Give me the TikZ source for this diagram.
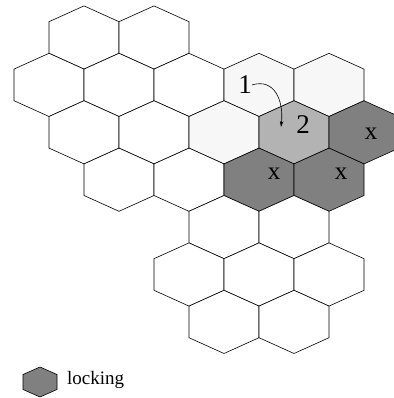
\documentclass[tikz,border=0pt]{standalone}
\usepackage{fontspec}
\setmainfont{Liberation Serif}
\usetikzlibrary{arrows.meta}
\begin{document}
\begin{tikzpicture}[x=1pt,y=-1pt]
\definecolor{cfree}{HTML}{FFFFFF}
\definecolor{cseen}{HTML}{F7F7F7}
\definecolor{cpick}{HTML}{B3B3B3}
\definecolor{clock}{HTML}{808080}
\tikzset{cell/.style={draw=black,line width=0.6pt,line join=miter},
 cross/.style={font=\fontsize{25}{27}\selectfont,inner sep=0pt},
 digit/.style={font=\fontsize{27}{29}\selectfont,inner sep=0pt}}
\useasboundingbox (0,0) rectangle (393,398);
% grid of cells
\foreach \cx/\cy/\col in {84/37.5/cfree,154/37.5/cfree,
 49/84.9/cfree,119/84.9/cfree,189/84.9/cfree,259/84.9/cseen,329/84.9/cseen,
 84/132.3/cfree,154/132.3/cfree,224/132.3/cseen,294/132.3/cpick,364/132.3/clock,
 119/179.7/cfree,189/179.7/cfree,259/179.7/clock,329/179.7/clock,
 224/227.1/cfree,294/227.1/cfree,
 189/274.5/cfree,259/274.5/cfree,329/274.5/cfree,
 224/321.9/cfree,294/321.9/cfree}
 \filldraw[cell,fill=\col] (\cx,\cy) +(0,-31.6) -- +(35,-15.8) -- +(35,15.8)
  -- +(0,31.6) -- +(-35,15.8) -- +(-35,-15.8) -- cycle;
% labels
\node[digit] (one) at (245,85) {1};
\node[digit] (two) at (303,125) {2};
\node[cross] (xa) at (371,134) {x};
\node[cross] (xb) at (274,174) {x};
\node[cross] (xc) at (341,174) {x};
\coordinate (tip) at (281,127);
\draw[line width=0.6pt,-{Stealth[length=6pt,width=3.5pt]}] (one.east) .. controls (274,78) and (284,100) .. (tip);
% legend
\filldraw[cell,fill=clock] (40,382) +(0,-15) -- +(17,-7.5) -- +(17,7.5)
 -- +(0,15) -- +(-17,7.5) -- +(-17,-7.5) -- cycle;
\node[font=\fontsize{19}{21}\selectfont,anchor=west,inner sep=0pt] (lock) at (67,380) {locking};
\end{tikzpicture}
\end{document}
